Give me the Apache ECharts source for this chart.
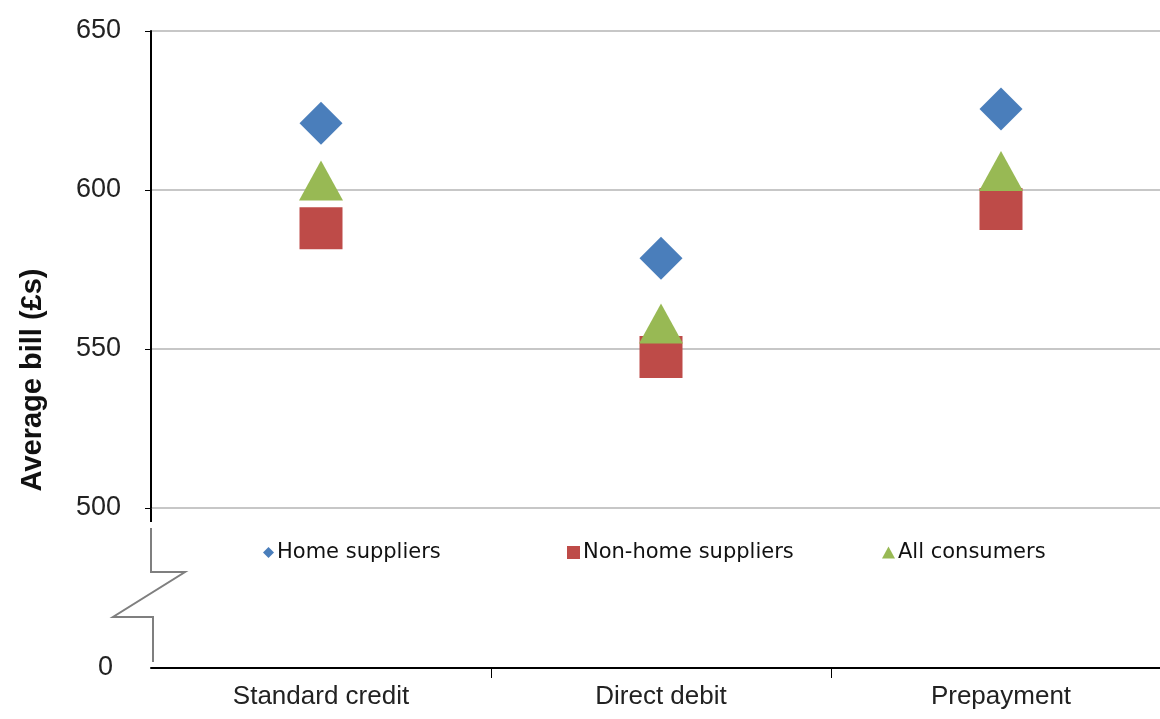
<!DOCTYPE html>
<html>
<head>
<meta charset="utf-8">
<title>Average bill by payment method</title>
<script src="https://cdn.jsdelivr.net/npm/echarts@6/dist/echarts.min.js"></script>
<style>
  html, body { margin: 0; padding: 0; background: #ffffff; }
  #chart { width: 1160px; height: 719px; }
</style>
</head>
<body>
<div id="chart"></div>
<script>
// Payment methods along the x axis
const categories = ['Standard credit', 'Direct debit', 'Prepayment'];

// Average bill (£) per consumer group
const homeSuppliers = [621, 578.5, 625.5];
const nonHomeSuppliers = [588, 547.5, 594];
const allConsumers = [603, 558, 606];

// Value axis (upper panel) ticks
const yMin = 500;
const yMax = 650;
const yStep = 50;

const seriesNames = ['Home suppliers', 'Non-home suppliers', 'All consumers'];
const colors = ['#4A7EBB', '#BE4B48', '#98B954'];

const FONT = '"Liberation Sans", Arial, sans-serif';
const LEGEND_FONT = '"DejaVu Sans", Verdana, sans-serif';

// Plot frame (the right-hand category runs slightly past the canvas edge)
const plotLeft = 151;
const plotWidth = 1020;
const plotTop = 31;
const plotBottomY = 508;   // y pixel of the 500 line
const baseY = 668;         // y pixel of the zero baseline
const H = 719;

const chart = echarts.init(document.getElementById('chart'), null, { renderer: 'canvas' });

function legendFor(i, left, icon, w, h) {
  return {
    show: true,
    data: [seriesNames[i]],
    left: left,
    top: 542,
    icon: icon,
    itemWidth: w,
    itemHeight: h,
    itemGap: 4,
    padding: 0,
    textStyle: { fontFamily: LEGEND_FONT, fontSize: 21, color: '#111', padding: [0, 0, 0, -2] }
  };
}

// Break marker on the value axis between 500 and 0
const breakLine = {
  type: 'polyline',
  silent: true,
  shape: {
    points: [
      [plotLeft, 528], [plotLeft, 572], [185, 572],
      [113, 617], [153, 617], [153, 662]
    ]
  },
  style: { stroke: '#7f7f7f', lineWidth: 2, fill: null }
};
const axisTail = {
  type: 'line',
  silent: true,
  shape: { x1: plotLeft, y1: plotBottomY, x2: plotLeft, y2: 522 },
  style: { stroke: '#000', lineWidth: 2 }
};

const option = {
  backgroundColor: '#ffffff',
  animation: false,
  color: colors,
  grid: [
    { left: plotLeft, top: plotTop, width: plotWidth, bottom: H - plotBottomY, containLabel: false, outerBoundsMode: 'none' },
    { left: plotLeft, top: baseY - 20, width: plotWidth, bottom: H - baseY, containLabel: false, outerBoundsMode: 'none' }
  ],
  xAxis: [
    { type: 'category', gridIndex: 0, data: categories, show: false },
    {
      type: 'category', gridIndex: 1, data: categories,
      axisLine: { show: true, lineStyle: { color: '#000', width: 2 } },
      axisTick: { show: true, length: 10, interval: (i) => i !== 0, lineStyle: { color: '#000', width: 1 } },
      axisLabel: { fontFamily: FONT, fontSize: 26, color: '#222', margin: 16 },
      splitLine: { show: false }
    }
  ],
  yAxis: [
    {
      type: 'value', gridIndex: 0, min: yMin, max: yMax, interval: yStep,
      axisLine: { show: true, lineStyle: { color: '#000', width: 2 } },
      axisTick: { show: true, length: 6, lineStyle: { color: '#000', width: 1 } },
      axisLabel: { fontFamily: FONT, fontSize: 27, color: '#222', margin: 30 },
      splitLine: { show: true, lineStyle: { color: '#b5b5b5', width: 1.5 } }
    },
    {
      type: 'value', gridIndex: 1, min: 0, max: 1, interval: 1,
      axisLine: { show: false },
      axisTick: { show: false },
      axisLabel: {
        fontFamily: FONT, fontSize: 27, color: '#222', margin: 38,
        formatter: v => (v === 0 ? '0' : '')
      },
      splitLine: { show: false }
    }
  ],
  legend: [
    legendFor(0, 263, 'diamond', 11, 11),
    legendFor(1, 567, 'rect', 13, 13),
    legendFor(2, 882, 'triangle', 13, 12)
  ],
  series: [
    {
      name: seriesNames[0], type: 'scatter', xAxisIndex: 0, yAxisIndex: 0,
      symbol: 'diamond', symbolSize: 43, data: homeSuppliers,
      itemStyle: { color: colors[0], opacity: 1 }
    },
    {
      name: seriesNames[1], type: 'scatter', xAxisIndex: 0, yAxisIndex: 0,
      symbol: 'rect', symbolSize: [43, 42], data: nonHomeSuppliers,
      itemStyle: { color: colors[1], opacity: 1 }
    },
    {
      name: seriesNames[2], type: 'scatter', xAxisIndex: 0, yAxisIndex: 0,
      symbol: 'triangle', symbolSize: [44, 40], data: allConsumers,
      itemStyle: { color: colors[2], opacity: 1 }
    }
  ],
  graphic: [
    breakLine,
    axisTail,
    {
      type: 'text',
      silent: true,
      x: 33, y: 380,
      rotation: Math.PI / 2,
      style: {
        text: 'Average bill (£s)',
        fontFamily: FONT, fontWeight: 'bold', fontSize: 29, fill: '#111',
        textAlign: 'center', textVerticalAlign: 'middle'
      }
    }
  ]
};

chart.setOption(option);
</script>
</body>
</html>
